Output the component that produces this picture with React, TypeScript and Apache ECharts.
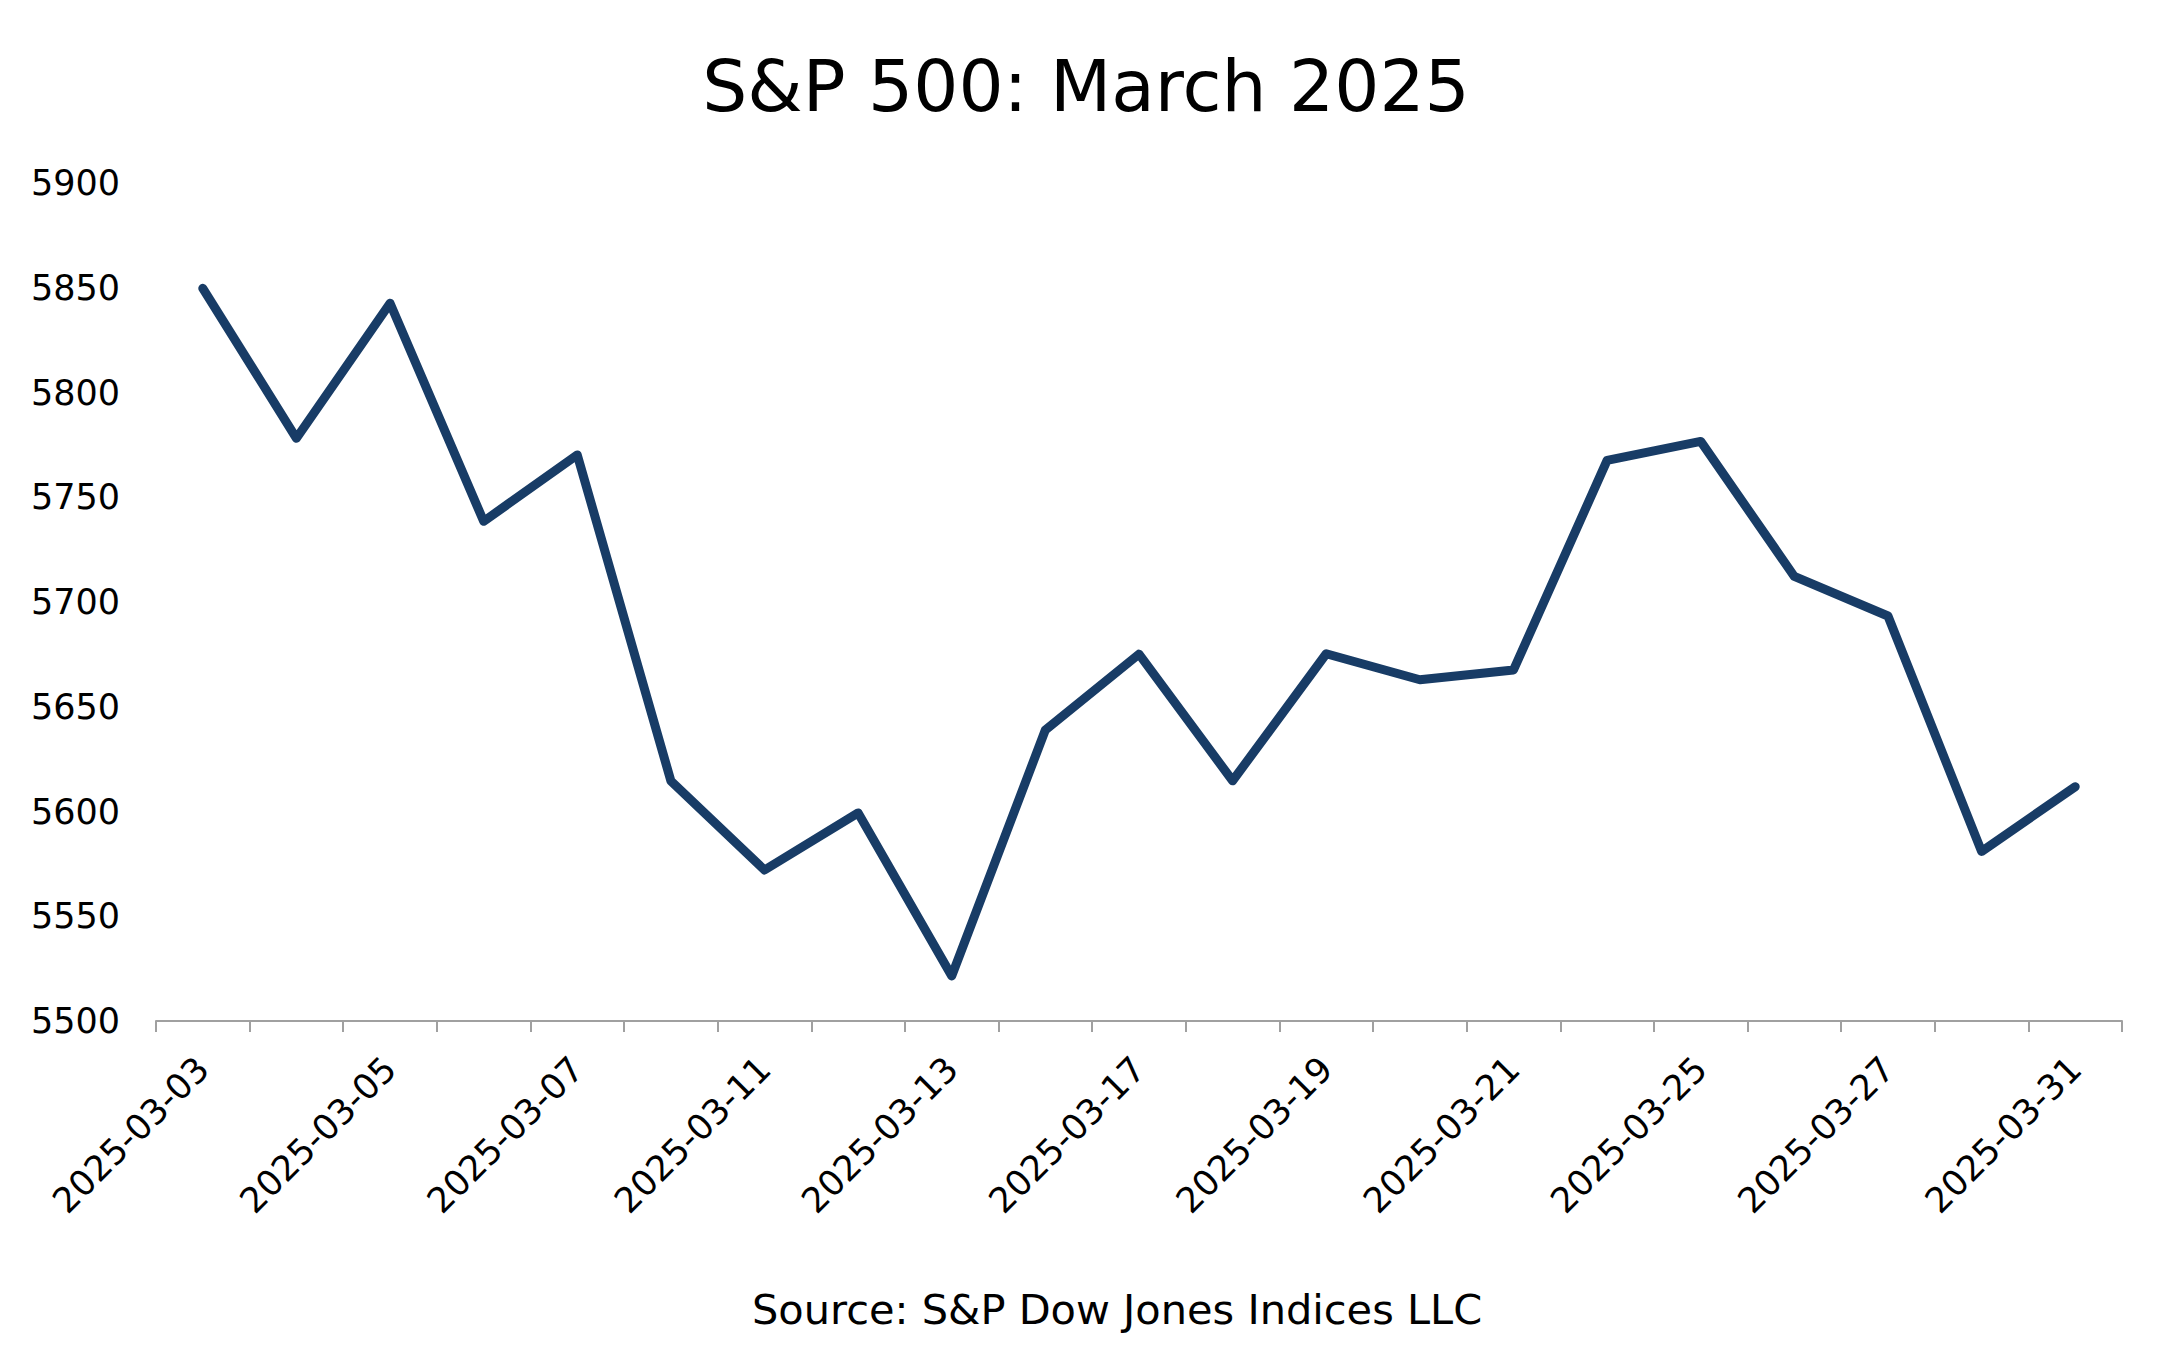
import React, { useEffect, useRef } from "react";
import * as echarts from "echarts";

const dates = [
  "2025-03-03", "2025-03-04", "2025-03-05", "2025-03-06", "2025-03-07",
  "2025-03-10", "2025-03-11", "2025-03-12", "2025-03-13", "2025-03-14",
  "2025-03-17", "2025-03-18", "2025-03-19", "2025-03-20", "2025-03-21",
  "2025-03-24", "2025-03-25", "2025-03-26", "2025-03-27", "2025-03-28",
  "2025-03-31",
];
const closes = [
  5849.72, 5778.15, 5842.63, 5738.52, 5770.2,
  5614.56, 5572.07, 5599.3, 5521.52, 5638.94,
  5675.12, 5614.66, 5675.29, 5662.89, 5667.56,
  5767.57, 5776.65, 5712.2, 5693.31, 5580.94,
  5611.85,
];
const yMin = 5500;
const yMax = 5900;
const yStep = 50;
const titleText = "S&P 500: March 2025";
const sourceText = "Source: S&P Dow Jones Indices LLC";

const FONT = "DejaVu Sans";

export default function App() {
  const ref = useRef<HTMLDivElement>(null);
  useEffect(() => {
    if (!ref.current) return;
    const chart = echarts.init(ref.current, null, { renderer: "svg" });
    chart.setOption({
      animation: false,
      backgroundColor: "#ffffff",
      textStyle: { fontFamily: FONT },
      grid: { left: 156, right: 55, top: 183, bottom: 331, containLabel: false },
      graphic: [
        {
          type: "text",
          x: 1086,
          y: 86,
          style: {
            text: titleText,
            fontFamily: FONT,
            fontSize: 71,
            fill: "#000000",
            align: "center",
            verticalAlign: "middle",
          },
        },
        {
          type: "text",
          x: 752,
          y: 1309,
          style: {
            text: sourceText,
            fontFamily: FONT,
            fontSize: 41.5,
            fill: "#000000",
            align: "left",
            verticalAlign: "middle",
          },
        },
      ],
      xAxis: {
        type: "category",
        data: dates,
        boundaryGap: true,
        axisLine: { show: true, lineStyle: { color: "#a0a0a0", width: 2 } },
        axisTick: { show: true, interval: 0, length: 11, lineStyle: { color: "#a0a0a0", width: 2 } },
        axisLabel: {
          interval: 1,
          rotate: 45,
          margin: 42,
          fontFamily: FONT,
          fontSize: 35,
          color: "#000000",
        },
        splitLine: { show: false },
      },
      yAxis: {
        type: "value",
        min: yMin,
        max: yMax,
        interval: yStep,
        axisLine: { show: false },
        axisTick: { show: false },
        splitLine: { show: false },
        axisLabel: {
          margin: 36,
          fontFamily: FONT,
          fontSize: 35,
          color: "#000000",
          formatter: (v: number) => String(v),
        },
      },
      series: [
        {
          type: "line",
          data: closes,
          showSymbol: false,
          symbol: "none",
          lineStyle: { color: "#183c66", width: 9, cap: "round", join: "round" },
          itemStyle: { color: "#183c66" },
        },
      ],
    });
    return () => chart.dispose();
  }, []);
  return (
    <div
      ref={ref}
      style={{ position: "absolute", left: 0, top: 0, width: 2177, height: 1352, background: "#fff" }}
    />
  );
}
